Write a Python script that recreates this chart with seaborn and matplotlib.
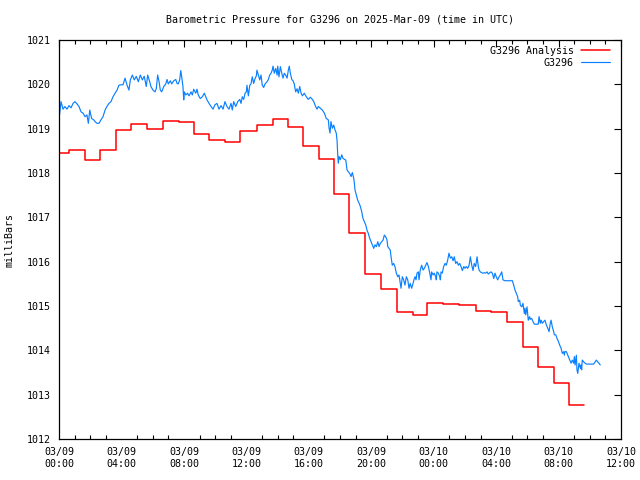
import matplotlib
matplotlib.use("Agg")
import matplotlib.pyplot as plt
import seaborn as sns
import pandas as pd
from matplotlib.ticker import MultipleLocator

# ---------------- data ----------------
title = "Barometric Pressure for G3296 on 2025-Mar-09 (time in UTC)"
ylabel = "milliBars"
series_names = ["G3296 Analysis", "G3296"]

# hours since 2025-03-09 00:00 UTC
red_hours = [0.00, 0.66, 1.66, 2.64, 3.62, 4.62, 5.66, 6.68, 7.70, 8.65, 9.64, 10.62,
             11.60, 12.66, 13.70, 14.70, 15.66, 16.66, 17.60, 18.60, 19.60, 20.60,
             21.65, 22.70, 23.60, 24.60, 25.65, 26.70, 27.70, 28.70, 29.70, 30.70,
             31.70, 32.70, 33.60]
red_mb = [1018.44, 1018.51, 1018.29, 1018.51, 1018.96, 1019.11, 1019.00, 1019.17,
          1019.14, 1018.87, 1018.74, 1018.71, 1018.94, 1019.08, 1019.21, 1019.03,
          1018.62, 1018.31, 1017.52, 1016.64, 1015.72, 1015.38, 1014.86, 1014.79,
          1015.06, 1015.04, 1015.02, 1014.88, 1014.86, 1014.63, 1014.07, 1013.62,
          1013.26, 1012.76, 1012.76]

blue_hours = [
    0.00, 0.13, 0.26, 0.38, 0.51, 0.64, 0.77, 0.90, 1.02, 1.15, 1.28, 1.41, 1.54, 1.67,
    1.79, 1.88, 1.97, 2.09, 2.22, 2.31, 2.43, 2.56, 2.69, 2.82, 2.95, 3.07, 3.20, 3.33,
    3.46, 3.59, 3.72, 3.84, 3.97, 4.10, 4.23, 4.36, 4.48, 4.57, 4.70, 4.82, 4.95, 5.08,
    5.21, 5.34, 5.46, 5.59, 5.68, 5.81,
    5.89, 6.02, 6.15, 6.23, 6.32, 6.41, 6.49, 6.58, 6.71, 6.84, 6.92, 7.00, 7.13, 7.22,
    7.35, 7.48, 7.56, 7.64, 7.73, 7.80, 7.86, 7.94, 7.99, 8.03, 8.12, 8.24, 8.33, 8.46,
    8.54, 8.63, 8.76, 8.84, 8.92, 9.05, 9.18, 9.31, 9.40, 9.48, 9.61, 9.74, 9.87, 9.99,
    10.12, 10.25, 10.38, 10.51, 10.63, 10.76, 10.89, 11.02, 11.10, 11.19, 11.32, 11.45,
    11.58,
    11.66, 11.74, 11.83, 11.92, 12.00, 12.04, 12.13, 12.22, 12.30, 12.38, 12.47, 12.56,
    12.64, 12.68, 12.77, 12.86, 12.94, 13.02, 13.11, 13.20, 13.33, 13.41, 13.50, 13.58,
    13.66, 13.71, 13.79, 13.88, 13.97, 14.01, 14.09, 14.18, 14.27, 14.35, 14.43, 14.52,
    14.61, 14.69, 14.75, 14.82, 14.91, 14.99, 15.07, 15.16, 15.25, 15.33, 15.42, 15.50,
    15.59, 15.71, 15.84, 15.97, 16.10, 16.23, 16.32, 16.44, 16.53, 16.61, 16.74, 16.87,
    17.00, 17.12, 17.25,
    17.30, 17.36, 17.42, 17.51, 17.60, 17.68, 17.76, 17.81, 17.85, 17.89, 17.94, 18.02,
    18.11, 18.19, 18.28, 18.37, 18.45, 18.53, 18.62, 18.71, 18.79, 18.88, 18.92, 18.96,
    19.05, 19.13, 19.22, 19.30, 19.39, 19.47, 19.56, 19.65, 19.73, 19.81, 19.90, 19.99,
    20.07, 20.16, 20.24, 20.33, 20.42, 20.50, 20.58, 20.67, 20.76, 20.84, 20.93, 21.01,
    21.06, 21.14, 21.22, 21.27, 21.35, 21.44, 21.52, 21.61, 21.70, 21.78, 21.86, 21.91,
    21.99, 22.08, 22.16, 22.25, 22.34, 22.42, 22.50, 22.59, 22.68, 22.76,
    22.81, 22.87, 22.93, 23.02, 23.06, 23.14, 23.23, 23.32, 23.40, 23.49, 23.57, 23.66,
    23.75, 23.83, 23.87, 23.96, 24.04, 24.13, 24.17, 24.21, 24.30, 24.39, 24.43, 24.47,
    24.55, 24.64, 24.73, 24.81, 24.90, 24.98, 25.07, 25.16, 25.24, 25.32, 25.41, 25.50,
    25.58, 25.67, 25.75, 25.84, 25.93, 26.01, 26.09, 26.18, 26.27, 26.35, 26.44, 26.52,
    26.60, 26.69, 26.78, 26.86, 26.91, 26.99, 27.08, 27.16, 27.25, 27.33, 27.42, 27.50,
    27.59, 27.67, 27.76, 27.85, 27.93, 28.01, 28.10, 28.19, 28.27, 28.36, 28.44,
    28.57, 29.04, 29.13, 29.21, 29.29, 29.38, 29.42, 29.51, 29.55, 29.64, 29.72, 29.81,
    29.85, 29.90, 29.98, 30.02, 30.06, 30.15, 30.19, 30.28, 30.36, 30.45, 30.70, 30.75,
    30.83, 30.88, 30.96, 31.05, 31.13, 31.22, 31.31, 31.39, 31.47, 31.52, 31.60, 31.69,
    31.73, 31.82, 31.90, 31.99, 32.07, 32.16, 32.24, 32.33, 32.37, 32.41, 32.50, 32.59,
    32.63, 32.72, 32.80, 32.88, 32.97, 33.01, 33.06, 33.10, 33.14, 33.18, 33.23, 33.31,
    33.40, 33.44, 33.48, 33.52, 33.61, 33.70, 33.78, 34.25, 34.34, 34.42, 34.51, 34.59,
    34.67]
blue_mb = [
    1019.21, 1019.61, 1019.44, 1019.50, 1019.44, 1019.52, 1019.47, 1019.57, 1019.61,
    1019.56, 1019.50, 1019.38, 1019.35, 1019.27, 1019.31, 1019.12, 1019.42, 1019.23,
    1019.20, 1019.16, 1019.12, 1019.12, 1019.20, 1019.27, 1019.42, 1019.50, 1019.57,
    1019.61, 1019.72, 1019.80, 1019.87, 1019.98, 1019.99, 1019.99, 1020.14, 1019.98,
    1019.87, 1020.10, 1020.21, 1020.10, 1020.18, 1020.06, 1020.21, 1020.10, 1020.18,
    1019.95, 1020.21, 1020.06,
    1019.95, 1019.87, 1019.83, 1019.90, 1020.21, 1020.06, 1019.87, 1019.83, 1019.95,
    1020.01, 1020.11, 1020.01, 1020.08, 1020.01, 1020.08, 1020.11, 1020.02, 1020.01,
    1020.10, 1020.31, 1020.17, 1019.95, 1019.65, 1019.83, 1019.76, 1019.80, 1019.74,
    1019.83, 1019.76, 1019.89, 1019.80, 1019.89, 1019.76, 1019.68, 1019.72, 1019.80,
    1019.72, 1019.65, 1019.57, 1019.50, 1019.44, 1019.54, 1019.57, 1019.44, 1019.52,
    1019.44, 1019.61, 1019.50, 1019.44, 1019.57, 1019.42, 1019.61, 1019.50, 1019.61,
    1019.66,
    1019.57, 1019.72, 1019.66, 1019.80, 1019.83, 1019.98, 1019.74, 1019.98, 1020.01,
    1020.17, 1020.02, 1020.13, 1020.19, 1020.32, 1020.21, 1020.10, 1020.21, 1019.98,
    1019.93, 1020.01, 1020.06, 1020.11, 1020.21, 1020.25, 1020.32, 1020.41, 1020.25,
    1020.36, 1020.21, 1020.41, 1020.17, 1020.40, 1020.25, 1020.14, 1020.25, 1020.21,
    1020.14, 1020.32, 1020.41, 1020.25, 1020.11, 1020.08, 1020.01, 1019.83, 1019.90,
    1019.80, 1019.95, 1019.81, 1019.74, 1019.80, 1019.72, 1019.66, 1019.71, 1019.66,
    1019.61, 1019.50, 1019.44, 1019.50, 1019.46, 1019.42, 1019.35, 1019.23, 1019.20,
    1019.01, 1018.90, 1019.16, 1019.01, 1019.08, 1018.97, 1018.90, 1018.74, 1018.44,
    1018.22, 1018.37, 1018.30, 1018.41, 1018.33, 1018.31, 1018.29, 1018.07, 1018.03,
    1017.99, 1017.92, 1018.01, 1017.88, 1017.77, 1017.62, 1017.50, 1017.39, 1017.32,
    1017.25, 1017.13, 1016.98, 1016.90, 1016.83, 1016.71, 1016.64, 1016.53, 1016.45,
    1016.38, 1016.30, 1016.38, 1016.34, 1016.45, 1016.34, 1016.41, 1016.45, 1016.49,
    1016.60, 1016.56, 1016.49, 1016.34, 1016.30, 1016.26, 1016.11, 1015.92, 1015.96,
    1015.89, 1015.74, 1015.66, 1015.70, 1015.51, 1015.40, 1015.66, 1015.59, 1015.47,
    1015.66, 1015.59, 1015.40, 1015.51, 1015.40, 1015.51, 1015.62,
    1015.66, 1015.59, 1015.74, 1015.77, 1015.59, 1015.81, 1015.92, 1015.81, 1015.85,
    1015.92, 1015.98, 1015.89, 1015.74, 1015.59, 1015.77, 1015.70, 1015.74, 1015.66,
    1015.59, 1015.77, 1015.74, 1015.66, 1015.59, 1015.77, 1015.74, 1015.89, 1015.96,
    1015.92, 1016.04, 1016.19, 1016.08, 1016.11, 1016.02, 1016.11, 1015.96, 1016.00,
    1015.92, 1015.96, 1015.89, 1015.80, 1015.89, 1015.85, 1015.89, 1015.85, 1015.92,
    1016.11, 1015.92, 1015.80, 1015.96, 1015.89, 1016.11, 1015.89, 1015.81, 1015.77,
    1015.75, 1015.74, 1015.75, 1015.74, 1015.77, 1015.72, 1015.75, 1015.77, 1015.74,
    1015.62, 1015.74, 1015.66, 1015.59, 1015.66, 1015.70, 1015.77, 1015.59,
    1015.57, 1015.57, 1015.47, 1015.36, 1015.29, 1015.21, 1015.10, 1015.13, 1015.02,
    1014.98, 1015.06, 1014.83, 1014.95, 1014.80, 1014.98, 1014.83, 1014.68, 1014.76,
    1014.70, 1014.72, 1014.65, 1014.59, 1014.59, 1014.76, 1014.61, 1014.68, 1014.61,
    1014.65, 1014.68, 1014.57, 1014.50, 1014.42, 1014.61, 1014.68, 1014.53, 1014.42,
    1014.35, 1014.35, 1014.27, 1014.20, 1014.12, 1014.05, 1013.93, 1013.97, 1013.89,
    1013.97, 1013.97, 1013.89, 1013.86, 1013.78, 1013.71, 1013.78, 1013.71, 1013.86,
    1013.67, 1013.78, 1013.89, 1013.56, 1013.48, 1013.71, 1013.59, 1013.67, 1013.56,
    1013.78, 1013.74, 1013.71, 1013.69, 1013.69, 1013.74, 1013.78, 1013.74, 1013.71,
    1013.67]

x_ticks = [0, 4, 8, 12, 16, 20, 24, 28, 32, 36]
x_tick_labels = ["03/09\n00:00", "03/09\n04:00", "03/09\n08:00", "03/09\n12:00",
                 "03/09\n16:00", "03/09\n20:00", "03/10\n00:00", "03/10\n04:00",
                 "03/10\n08:00", "03/10\n12:00"]
y_ticks = [1012, 1013, 1014, 1015, 1016, 1017, 1018, 1019, 1020, 1021]

# ---------------- plot ----------------
sns.set_theme(style="white")
plt.rcParams['font.family'] = ['DejaVu Sans Mono']
FS = 7.2

fig = plt.figure(figsize=(6.4, 4.8), dpi=100)
ax = fig.add_axes([59 / 640, 1 - 439 / 480, (621 - 59) / 640, (439 - 40) / 480])

red_df = pd.DataFrame({"hours": red_hours, "mb": red_mb})
blue_df = pd.DataFrame({"hours": blue_hours, "mb": blue_mb})

sns.lineplot(data=red_df, x="hours", y="mb", ax=ax, color="#ff0000", linewidth=1.1,
             drawstyle="steps-post", estimator=None, sort=False, label=series_names[0])
sns.lineplot(data=blue_df, x="hours", y="mb", ax=ax, color="#0a80ff", linewidth=0.85,
             estimator=None, sort=False, label=series_names[1])

ax.set_xlim(0, 36)
ax.set_ylim(1012, 1021)
ax.set_xticks(x_ticks)
ax.set_xticklabels(x_tick_labels, fontsize=FS, linespacing=1.25)
ax.set_yticks(y_ticks)
ax.set_yticklabels([str(v) for v in y_ticks], fontsize=FS)
ax.xaxis.set_minor_locator(MultipleLocator(1))
ax.tick_params(axis="both", which="major", direction="in", length=5, width=0.8,
               top=True, right=True, labeltop=False, labelright=False, color="black",
               labelcolor="black")
ax.tick_params(axis="x", which="minor", direction="in", length=3, width=0.8,
               top=True, bottom=True, color="black")
ax.tick_params(axis="x", which="major", pad=6)
ax.tick_params(axis="y", which="major", pad=6)
for s in ax.spines.values():
    s.set_color("black")
    s.set_linewidth(0.9)
ax.set_xlabel("")
ax.set_ylabel("")

fig.text(340 / 640, 1 - 19 / 480, title, ha="center", va="center", fontsize=FS,
         color="black")
fig.text(10 / 640, 0.5, ylabel, ha="center", va="center", rotation=90, fontsize=FS,
         color="black")

leg = ax.legend(loc="upper right", bbox_to_anchor=(610 / 640, 1 - 45.5 / 480),
                bbox_transform=fig.transFigure, frameon=False, markerfirst=False,
                fontsize=FS, handlelength=2.9, handletextpad=0.7, labelspacing=0.2,
                borderpad=0, borderaxespad=0)
for t in leg.get_texts():
    t.set_color("black")

fig.savefig("out.png", dpi=100, facecolor="white")
